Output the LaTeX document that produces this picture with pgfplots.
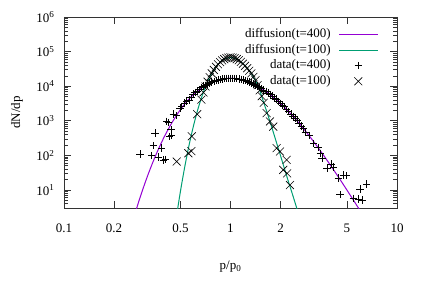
\documentclass[border=0pt]{standalone}
\usepackage{fontspec}
\setmainfont{Liberation Serif}
\usepackage{pgfplots}
\pgfplotsset{compat=1.18}
\definecolor{gpviolet}{HTML}{9400D3}
\definecolor{gpteal}{HTML}{009E73}
\begin{document}
\begin{tikzpicture}[font=\fontsize{13bp}{15bp}\selectfont]
\begin{axis}[
  at={(0,0)}, anchor=south west,
  scale only axis, width=333bp, height=191bp,
  xmode=log, ymode=log,
  xmin=0.1, xmax=10, ymin=3, ymax=1e6,
  xtick={0.1,0.2,0.5,1,2,5,10},
  xticklabels={0.1,0.2,0.5,1,2,5,10},
  xminorticks=false,
  ytick={10,100,1000,10000,100000,1000000},
  yticklabels={10\textsuperscript{1},10\textsuperscript{2},10\textsuperscript{3},10\textsuperscript{4},10\textsuperscript{5},10\textsuperscript{6}},
  minor ytick={4,5,6,7,8,9,20,30,40,50,60,70,80,90,200,300,400,500,600,700,800,900,2000,3000,4000,5000,6000,7000,8000,9000,2e4,3e4,4e4,5e4,6e4,7e4,8e4,9e4,2e5,3e5,4e5,5e5,6e5,7e5,8e5,9e5},
  major tick length=7bp, minor tick length=4bp,
  tick style={black!80, line width=0.5bp},
  axis line style={black!80, line width=0.6bp},
  xticklabel style={yshift=-12bp},
  yticklabel style={xshift=-6bp},
  xlabel={p/p\textsubscript{0}},
  ylabel={dN/dp},
  xlabel style={at={(axis description cs:0.5,-0.309)}, anchor=center},
  ylabel style={at={(axis description cs:-0.141,0.5)}, anchor=center},
  legend plot pos=right,
  legend cell align=right,
  legend style={draw=none, fill=none, at={(1,1)}, anchor=north east, xshift=-16bp, yshift=-8.3bp,
    row sep=1.6bp, /tikz/column sep=7bp, nodes={inner sep=1bp, text height=9bp, text depth=3bp}},
  legend image code/.code={\draw[mark repeat=2,mark phase=2,#1] plot coordinates {(0bp,0bp) (19bp,0bp) (38bp,0bp)};},
]
\addplot[gpviolet, line width=1bp, smooth, no marks] coordinates {
(0.2512,0.76) (0.2818,4.77) (0.3162,24.0) (0.3548,97.8) (0.3981,327) (0.4467,908)
(0.5012,2120) (0.5623,4207) (0.6310,7175) (0.7079,10641) (0.7943,13904) (0.8913,16180)
(1.0,16982) (1.1220,16125) (1.2589,13860) (1.4125,10852) (1.5849,7790) (1.7783,5164)
(1.9953,3177) (2.2387,1828) (2.5119,988) (2.8184,506) (3.1623,247) (3.5481,115.5)
(3.9811,52.1) (4.4668,22.9) (5.0119,9.79) (5.6234,4.13) (6.3096,1.72)
};
\addlegendentry{diffusion(t=400)}
\addplot[gpteal, line width=1bp, smooth, no marks] coordinates {
(0.4467,0.234) (0.4732,1.64) (0.5012,9.51) (0.5309,45.8) (0.5623,185) (0.5957,631)
(0.6310,1828) (0.6683,4539) (0.7079,9739) (0.7499,18185) (0.7943,29785) (0.8414,43125)
(0.8913,55672) (0.9441,64484) (1.0,67608) (1.0593,64565) (1.1220,56234) (1.1885,44668)
(1.2589,33113) (1.3335,23442) (1.4125,14454) (1.4962,7586) (1.5849,3311) (1.6788,1445)
(1.7783,603) (1.8836,245) (1.9953,100) (2.1135,39.8) (2.2387,16.2) (2.3714,6.76)
(2.5119,2.75) (2.6607,1.12)
};
\addlegendentry{diffusion(t=100)}
\addplot[only marks, mark=+, mark size=3.7bp, black, mark options={line width=0.6bp}] coordinates {
(0.2858,110) (0.3365,97.7) (0.3436,190) (0.3524,437) (0.3681,89) (0.3864,162) (0.3945,74)
(0.4074,76) (0.4140,955) (0.4227,891) (0.4285,351) (0.4395,550) (0.4436,389) (0.4529,1585)
(0.4753,1413) (0.4977,2344) (0.5093,2570)
(0.5309,3236) (0.5623,3981) (0.5957,5888) (0.6310,7178) (0.6683,9120) (0.7079,10641)
(0.7499,12359) (0.7943,13900) (0.8414,15205) (0.8913,16180) (0.9441,16788) (1.0,16982)
(1.0593,16749) (1.1220,16125) (1.1885,15136) (1.2589,13868) (1.3335,12400) (1.4125,10852)
(1.4962,9290) (1.5849,7798) (1.6788,6397) (1.7783,5164) (1.8836,4266) (1.9953,3177)
(2.1135,2541) (2.2387,1828) (2.3714,1352) (2.5119,1059) (2.6607,711) (2.8184,472)
(2.9854,380) (3.1623,219) (3.3497,170) (3.4674,115) (3.5481,83) (3.8019,42.7)
(4.0272,56.2) (4.1687,45.7) (4.4463,21.9) (4.7643,26.9) (4.9888,25.7) (4.5499,7.24)
(5.4702,5.75) (5.8614,5.50) (5.9979,10.5) (6.166,5.13) (6.5766,14.8)
(0.5464,3715) (0.5788,4786) (0.6131,6607) (0.6494,7943) (0.6879,10000) (0.7286,11482)
(0.7718,13183) (0.8175,14622) (0.8660,15776) (0.9173,16596) (0.9716,16982) (1.0292,16904)
(1.0902,16482) (1.1548,15668) (1.2232,14521) (1.2957,13183) (1.3725,11614) (1.4538,10069)
(1.5399,8511) (1.6312,7079) (1.7278,5754) (1.8302,4571) (1.9387,3673) (2.0535,2818)
(2.1752,2138) (2.3041,1585) (2.4406,1189) (2.5852,851) (2.7384,589)
};
\addlegendentry{data(t=400)}
\addplot[only marks, mark=x, mark size=5.6bp, black, mark options={line width=0.6bp}] coordinates {
(0.4753,66) (0.5585,115) (0.5821,132) (0.5861,355) (0.6310,1550) (0.6683,4074)
(0.7079,9772) (0.7499,18197) (0.7943,29512) (0.8414,43152) (0.8913,55590) (0.9441,64565)
(1.0,68391) (1.0593,64565) (1.1220,56234) (1.1885,44668) (1.2589,33113) (1.3335,23442)
(1.4125,14800) (1.4962,7586) (1.5849,3311) (1.6482,1660) (1.7258,955) (1.8072,676)
(1.8923,162) (1.9815,129) (2.0749,38) (2.1727,74) (2.1878,30) (2.2751,13.8)
(0.6879,6607) (0.7286,13490) (0.7718,23442) (0.8175,36308) (0.8660,49545) (0.9173,60534)
(0.9716,66988) (1.0292,66988) (1.0902,60674) (1.1548,50466) (1.2232,38726) (1.2957,27990)
(1.3725,18621) (1.4538,10715) (1.5399,5129)
};
\addlegendentry{data(t=100)}
\end{axis}
\pgfresetboundingbox
\path[use as bounding box] (-64bp,-97bp) rectangle (372bp,208bp);
\end{tikzpicture}
\end{document}
